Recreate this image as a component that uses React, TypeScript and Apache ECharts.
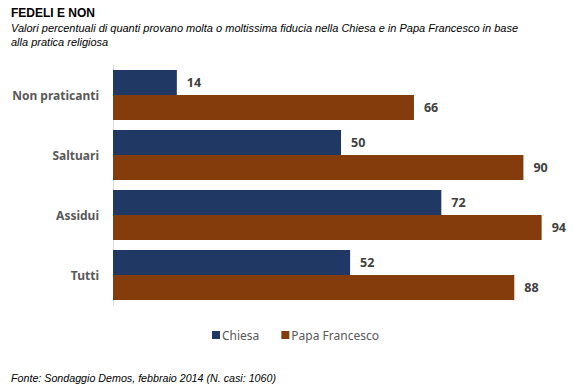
import React, { useEffect, useRef } from "react";
import * as echarts from "echarts";

const categories = ["Non praticanti", "Saltuari", "Assidui", "Tutti"];
const chiesa = [14, 50, 72, 52];
const papaFrancesco = [66, 90, 94, 88];
const seriesNames = ["Chiesa", "Papa Francesco"];
const titleText = "FEDELI E NON";
const subtitleText =
  "Valori percentuali di quanti provano molta o moltissima fiducia nella Chiesa e in Papa Francesco in base\nalla pratica religiosa";
const sourceText = "Fonte: Sondaggio Demos, febbraio 2014 (N. casi: 1060)";

export default function App() {
  const ref = useRef<HTMLDivElement>(null);
  useEffect(() => {
    if (!ref.current) return;
    const chart = echarts.init(ref.current, null, { renderer: "svg" });
    const labelStyle = {
      show: true,
      position: "right" as const,
      distance: 10,
      color: "#404040",
      fontWeight: "bold" as const,
      fontSize: 12.5,
      fontFamily: "Noto Sans",
    };
    chart.setOption({
      animation: false,
      backgroundColor: "#ffffff",
      title: [
        {
          text: titleText,
          left: 6,
          top: 2,
          textStyle: { fontFamily: "Liberation Sans", fontSize: 12, fontWeight: "bold", color: "#000" },
        },
        {
          text: subtitleText,
          left: 6,
          top: 16,
          textStyle: {
            fontFamily: "Liberation Sans",
            fontSize: 11,
            fontStyle: "italic",
            fontWeight: "normal",
            color: "#000",
            lineHeight: 14,
          },
        },
        {
          text: sourceText,
          left: 6,
          top: 367,
          textStyle: {
            fontFamily: "Liberation Sans",
            fontSize: 10.7,
            fontStyle: "italic",
            fontWeight: "normal",
            color: "#000",
          },
        },
      ],
      legend: {
        data: seriesNames,
        left: 207,
        top: 324,
        itemWidth: 8,
        itemHeight: 8,
        itemGap: 22,
        icon: "rect",
        textStyle: { color: "#595959", fontSize: 12, fontFamily: "Noto Sans", padding: [0, 0, 0, -3] },
      },
      grid: { left: 113, right: 5, top: 65, height: 240, containLabel: false },
      xAxis: {
        type: "value",
        min: 0,
        max: 100,
        show: false,
      },
      yAxis: {
        type: "category",
        data: categories,
        inverse: true,
        axisLine: { show: true, lineStyle: { color: "#d9d9d9", width: 1 } },
        axisTick: { show: false },
        axisLabel: {
          color: "#595959",
          fontWeight: "bold",
          fontSize: 12,
          fontFamily: "Noto Sans",
          margin: 14,
        },
      },
      series: [
        {
          name: seriesNames[0],
          type: "bar",
          data: chiesa,
          barWidth: 25,
          barGap: "0%",
          itemStyle: { color: "#1F3864" },
          label: labelStyle,
        },
        {
          name: seriesNames[1],
          type: "bar",
          data: papaFrancesco,
          barWidth: 25,
          barGap: "0%",
          itemStyle: { color: "#843C0C" },
          label: labelStyle,
        },
      ],
    });
    return () => chart.dispose();
  }, []);
  return <div ref={ref} style={{ width: 574, height: 387, position: "absolute", left: 0, top: 0 }} />;
}
